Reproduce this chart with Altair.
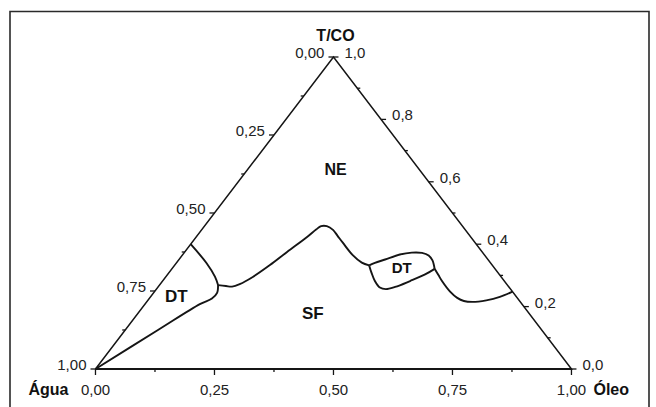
import altair as alt
import pandas as pd

# ---------------- data (ternary compositions: Óleo fraction, T/CO fraction) -------------
dt_left_top_oleo = [0.0, 0.064, 0.103, 0.123]
dt_left_top_tco = [0.400, 0.339, 0.296, 0.269]

dt_left_low_oleo = [0.123, 0.1335, 0.1317, 0.1153, 0.0688, 0.0]
dt_left_low_tco = [0.269, 0.244, 0.226, 0.208, 0.125, 0.0]

main_oleo = [0.123, 0.141, 0.155, 0.167, 0.183, 0.200, 0.215, 0.233, 0.240, 0.245,
             0.257, 0.276, 0.296, 0.318, 0.358, 0.389, 0.409]
main_tco = [0.269, 0.266, 0.264, 0.272, 0.295, 0.333, 0.375, 0.423, 0.447, 0.458,
            0.458, 0.446, 0.426, 0.404, 0.365, 0.341, 0.332]

dt_right_top_oleo = [0.409, 0.417, 0.433, 0.456, 0.478, 0.500, 0.518, 0.534, 0.552]
dt_right_top_tco = [0.332, 0.340, 0.351, 0.367, 0.373, 0.372, 0.364, 0.348, 0.321]

dt_right_low_oleo = [0.409, 0.426, 0.446, 0.467, 0.482, 0.498, 0.520, 0.541, 0.552]
dt_right_low_tco = [0.332, 0.308, 0.282, 0.261, 0.256, 0.263, 0.282, 0.303, 0.321]

right_oleo = [0.552, 0.570, 0.587, 0.621, 0.646, 0.665, 0.684, 0.711, 0.734, 0.752]
right_tco = [0.321, 0.301, 0.282, 0.248, 0.228, 0.218, 0.215, 0.220, 0.231, 0.248]

# region labels
region_text = ["NE", "SF", "DT", "DT"]
region_oleo = [0.185, 0.369, 0.055, 0.482]
region_tco = [0.639, 0.175, 0.230, 0.323]
region_size = [16, 17, 17, 15]

# axis tick values and labels
bottom_major = [0.0, 0.25, 0.5, 0.75, 1.0]
bottom_labels = ["0,00", "0,25", "0,50", "0,75", "1,00"]
bottom_minor = [0.125, 0.375, 0.625, 0.875]

left_major_agua = [0.0, 0.25, 0.5, 0.75, 1.0]
left_labels = ["0,00", "0,25", "0,50", "0,75", "1,00"]
left_minor_agua = [0.125, 0.375, 0.625, 0.875]

right_major_tco = [0.0, 0.2, 0.4, 0.6, 0.8, 1.0]
right_labels = ["0,0", "0,2", "0,4", "0,6", "0,8", "1,0"]
right_minor_tco = [0.1, 0.3, 0.5, 0.7, 0.9]

FONT = "Liberation Sans"
INK = "#151515"


def cart(oleo, tco):
    return oleo + tco / 2.0, tco


# ---------------- build tables ----------------
curves = []
for name, ol, tc in [("dtl_top", dt_left_top_oleo, dt_left_top_tco),
                     ("dtl_low", dt_left_low_oleo, dt_left_low_tco),
                     ("main", main_oleo, main_tco),
                     ("dtr_top", dt_right_top_oleo, dt_right_top_tco),
                     ("dtr_low", dt_right_low_oleo, dt_right_low_tco),
                     ("right", right_oleo, right_tco)]:
    for i, (o, t) in enumerate(zip(ol, tc)):
        x, y = cart(o, t)
        curves.append({"curve": name, "i": i, "x": x, "y": y})
curves = pd.DataFrame(curves)

tri = pd.DataFrame([
    {"i": 0, "x": 0.0, "y": 0.0},
    {"i": 1, "x": 1.0, "y": 0.0},
    {"i": 2, "x": 0.5, "y": 1.0},
    {"i": 3, "x": 0.0, "y": 0.0},
])

# tick segments
HX_MAJ, HX_MIN = 5 / 476, 3 / 476
VY_MAJ, VY_MIN = 6 / 312, 3 / 312
ticks = []
for v in bottom_major:
    ticks.append({"x": v, "x2": v, "y": 0.0, "y2": -VY_MAJ})
for v in bottom_minor:
    ticks.append({"x": v, "x2": v, "y": 0.0, "y2": -VY_MIN})
for a in left_major_agua:
    x, y = cart(0.0, 1 - a)
    ticks.append({"x": x, "x2": x - HX_MAJ, "y": y, "y2": y})
for a in left_minor_agua:
    x, y = cart(0.0, 1 - a)
    ticks.append({"x": x, "x2": x - HX_MIN, "y": y, "y2": y})
for t in right_major_tco:
    x, y = cart(1 - t, t)
    ticks.append({"x": x, "x2": x + HX_MAJ, "y": y, "y2": y})
for t in right_minor_tco:
    x, y = cart(1 - t, t)
    ticks.append({"x": x, "x2": x + HX_MIN, "y": y, "y2": y})
ticks = pd.DataFrame(ticks)

bl = pd.DataFrame({"x": bottom_major, "y": [0.0] * 5, "t": bottom_labels})
ll = pd.DataFrame([{"x": cart(0.0, 1 - a)[0], "y": cart(0.0, 1 - a)[1], "t": s}
                   for a, s in zip(left_major_agua, left_labels)])
rl = pd.DataFrame([{"x": cart(1 - t, t)[0], "y": cart(1 - t, t)[1], "t": s}
                   for t, s in zip(right_major_tco, right_labels)])

regions = pd.DataFrame([{"x": cart(o, t)[0], "y": cart(o, t)[1], "t": s, "s": z}
                        for o, t, s, z in zip(region_oleo, region_tco, region_text, region_size)])

xs = alt.Scale(domain=[-0.2006, 1.1776], nice=False, zero=False)
ys = alt.Scale(domain=[-0.1218, 1.1827], nice=False, zero=False)
X = alt.X("x:Q", scale=xs, axis=None)
Y = alt.Y("y:Q", scale=ys, axis=None)

frame = alt.Chart(pd.DataFrame({"a": [0]})).mark_rect(
    filled=False, stroke="#2a2a2a", strokeWidth=1.6
).encode(x=alt.value(10), x2=alt.value(649), y=alt.value(11.5), y2=alt.value(440))

tri_layer = alt.Chart(tri).mark_line(color=INK, strokeWidth=1.5).encode(
    x=X, y=Y, order="i:Q")

base_line = alt.Chart(pd.DataFrame({"x": [0.0], "x2": [1.0], "y": [0.0]})).mark_rule(
    color=INK, strokeWidth=2).encode(x=X, x2="x2:Q", y=Y)

tick_layer = alt.Chart(ticks).mark_rule(color=INK, strokeWidth=1.3).encode(
    x=X, x2="x2:Q", y=Y, y2="y2:Q")

curve_layer = alt.Chart(curves).mark_line(
    color=INK, strokeWidth=1.9, interpolate="catmull-rom"
).encode(x=X, y=Y, detail="curve:N", order="i:Q")

bottom_txt = alt.Chart(bl).mark_text(
    font=FONT, fontSize=15, color="#222", dy=21, baseline="middle", align="center"
).encode(x=X, y=Y, text="t:N")

left_txt = alt.Chart(ll).mark_text(
    font=FONT, fontSize=15, color="#222", dx=-9, dy=-4, baseline="middle", align="right"
).encode(x=X, y=Y, text="t:N")

right_txt = alt.Chart(rl).mark_text(
    font=FONT, fontSize=15, color="#222", dx=11, dy=-4, baseline="middle", align="left"
).encode(x=X, y=Y, text="t:N")

region_txt = alt.Chart(regions).mark_text(
    font=FONT, fontWeight="bold", color="#111", baseline="middle", align="center"
).encode(x=X, y=Y, text="t:N", size=alt.Size("s:Q", scale=None, legend=None))

titles = pd.DataFrame([
    {"x": 0.5, "y": 1.0, "t": "T/CO"},
])
top_title = alt.Chart(titles).mark_text(
    font=FONT, fontWeight="bold", fontSize=16, color="#111", dy=-21, dx=2,
    baseline="middle", align="center"
).encode(x=X, y=Y, text="t:N")

agua = alt.Chart(pd.DataFrame({"x": [0.0], "y": [0.0], "t": ["Água"]})).mark_text(
    font=FONT, fontWeight="bold", fontSize=16, color="#111", dx=-27, dy=21,
    baseline="middle", align="right"
).encode(x=X, y=Y, text="t:N")

oleo = alt.Chart(pd.DataFrame({"x": [1.0], "y": [0.0], "t": ["Óleo"]})).mark_text(
    font=FONT, fontWeight="bold", fontSize=16, color="#111", dx=22, dy=21,
    baseline="middle", align="left"
).encode(x=X, y=Y, text="t:N")

chart = alt.layer(
    frame, tri_layer, base_line, tick_layer, curve_layer,
    bottom_txt, left_txt, right_txt, region_txt, top_title, agua, oleo
).properties(
    width=656, height=407, autosize=alt.AutoSizeParams(type="none"), padding=0
).configure_view(strokeWidth=0)

chart.save("out.html", embed_options={"renderer": "svg", "actions": False})
